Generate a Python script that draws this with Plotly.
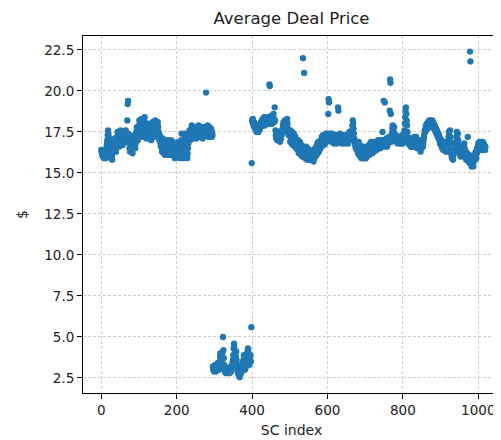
import plotly.graph_objects as go

# Average deal price per SC index
price_a = [
    16.4,16.3,16.2,16.1,16.0,16.3,16.2,15.9,16.0,16.1, 16.2,15.9,16.1,16.4,16.6,16.8,17.0,17.3,17.6,17.4,
    17.2,17.0,16.8,16.5,16.2,15.9,16.1,16.3,16.0,15.8, 16.2,16.5,16.8,16.6,16.4,16.9,17.1,16.7,16.5,16.3,
    16.6,16.9,17.2,17.5,17.3,17.1,16.8,16.6,16.9,17.2, 17.4,17.6,17.3,17.0,16.8,17.1,16.9,16.7,17.0,17.3,
    17.5,17.2,16.9,17.1,17.4,17.6,17.3,17.0,17.2,18.2, 19.2,19.4,17.4,17.1,16.8,16.5,16.3,16.6,16.9,17.2,
    17.0,16.7,16.4,16.2,16.5,16.8,17.1,17.3,17.0,16.7, 16.5,16.8,17.2,17.5,17.8,17.6,17.3,17.0,17.4,17.7,
    17.9,18.2,17.8,17.5,17.3,17.6,17.9,18.3,18.1,17.7, 17.4,17.2,17.5,17.8,18.0,18.4,18.1,17.8,17.5,17.3,
    17.1,17.4,17.7,17.9,17.6,17.3,17.5,17.8,18.0,17.7, 17.4,17.2,17.0,17.3,17.6,17.9,18.1,17.8,17.5,17.2,
    17.5,17.8,18.0,18.2,17.9,17.6,17.3,17.5,17.7,17.9, 18.1,17.8,17.5,17.2,17.0,17.3,17.1,16.8,16.6,16.9,
    16.9,16.3,16.7,17.1,16.4,16.2,16.8,17.0,16.4,16.1, 16.6,16.9,16.3,16.7,16.2,16.5,17.0,16.4,16.7,16.1,
    16.6,16.9,16.3,16.1,16.7,17.0,16.4,16.2,16.8,16.5, 16.9,16.3,16.1,16.6,16.2,15.9,16.4,16.7,16.2,16.0,
    16.5,16.8,16.2,16.0,16.6,16.9,16.3,16.1,15.9,16.4, 16.2,16.7,17.0,17.4,16.8,16.3,16.0,15.9,16.3,16.6,
    16.8,17.1,17.4,17.2,16.9,16.6,16.3,16.0,15.9,16.2, 16.5,16.8,17.1,17.4,17.6,17.3,17.0,17.2,17.5,17.7,
    17.9,17.6,17.3,17.1,17.4,17.6,17.8,17.5,17.2,17.4, 17.6,17.3,17.1,17.3,17.5,17.2,17.4,17.7,17.9,17.6,
    17.3,17.5,17.7,17.4,17.2,17.5,17.8,17.6,17.3,17.1, 17.4,17.6,17.8,17.5,17.3,17.6,17.8,17.5,19.9,17.7,
    17.4,17.6,17.9,17.7,17.4,17.2,17.5,17.8,17.6,17.3, 17.5,17.7,17.4,17.2,17.5,17.3,
]

price_low = [
    3.2,3.0,3.1,2.9,3.0,3.1,3.3,3.0,2.9,3.1,
    3.2,3.0,3.3,3.4,3.1,3.2,3.0,3.3,3.5,3.8,
    4.0,3.6,3.3,3.1,3.4,3.9,4.1,5.0,4.2,3.7,
    3.3,3.0,2.9,3.1,2.8,3.0,2.9,2.8,3.1,3.0,
    2.9,2.8,3.0,2.9,3.1,2.8,3.0,3.2,2.9,3.1,
    3.0,3.2,3.4,3.6,3.9,4.3,4.6,4.4,4.0,3.7,
    3.5,3.8,4.1,3.6,3.3,3.0,2.8,2.9,3.1,2.7,
    2.6,2.55,2.7,2.9,3.1,2.8,3.0,3.2,3.4,3.1,
    3.3,3.6,3.9,3.5,3.2,3.0,3.4,3.7,3.5,3.2,
    3.5,3.8,4.1,4.3,4.2,3.9,3.6,3.3,3.6,3.8,
    3.9,3.5,5.6,15.6,
]

price_b = [
    18.2,18.1,18.3,18.0,17.9,18.1,17.8,18.0,17.7,17.9, 17.6,17.8,17.5,17.7,17.6,17.9,17.7,17.5,17.8,17.6,
    17.9,17.7,18.0,17.8,18.1,17.9,18.2,18.0,18.3,18.1, 17.9,18.2,18.4,18.1,17.9,18.2,18.3,18.0,18.2,18.4,
    18.1,18.3,18.0,18.2,18.4,18.1,20.4,20.3,18.2,18.0, 18.3,18.5,18.2,18.0,18.3,18.1,18.4,18.6,18.3,18.1,
    19.0,18.2,17.6,17.3,17.1,17.4,17.2,17.0,17.3,17.5, 17.2,17.0,17.3,17.1,16.9,17.2,17.4,17.1,17.3,17.6,
    17.4,17.7,17.9,18.1,17.8,17.6,17.9,18.2,18.0,17.7, 17.5,17.8,18.1,18.3,18.0,17.7,17.5,17.3,17.6,17.4,
    17.4,16.9,17.6,17.0,17.3,16.8,17.5,17.1,16.7,17.3, 16.9,17.4,16.7,17.1,16.6,17.2,16.8,16.5,17.0,16.6,
    16.9,16.4,17.0,16.5,16.2,16.8,16.4,16.9,16.3,16.6, 16.1,16.7,16.3,16.0,16.6,22.0,16.2,16.5,21.1,16.1,
    16.5,15.9,16.3,16.6,16.0,16.4,15.8,16.2,16.5,15.9, 16.3,16.0,15.8,16.4,16.1,15.9,16.3,15.8,16.1,15.9,
    16.2,15.8,16.0,15.7,16.3,15.9,16.1,16.5,16.0,16.3, 16.6,16.1,16.4,16.8,16.2,16.5,16.9,16.3,16.7,16.4,
    16.8,16.5,17.0,16.6,16.9,17.2,16.7,17.0,17.3,16.8, 17.1,16.7,17.3,17.0,16.8,17.2,17.4,16.9,17.1,17.3,
    17.4,17.1,18.6,19.5,19.3,17.3,17.0,17.2,17.4,17.1, 16.9,17.2,17.4,17.1,16.9,17.2,17.0,16.8,17.1,17.3,
    17.0,16.8,17.1,17.3,17.0,16.8,17.1,17.3,19.0,18.8, 17.1,16.9,17.2,17.4,17.1,16.9,17.2,17.0,16.8,17.1,
    17.3,17.0,16.8,17.1,17.3,17.0,17.2,16.9,17.1,17.3, 17.0,16.8,17.1,17.3,17.0,16.8,17.1,17.3,17.5,17.2,
    17.0,17.3,17.5,17.2,17.4,17.6,17.9,18.2,18.0,17.7, 17.4,17.1,16.9,16.7,16.9,16.5,16.8,16.6,16.4,16.7,
    16.7,16.2,16.5,16.9,16.1,16.4,16.7,16.0,16.3,16.6, 15.9,16.4,16.1,16.5,15.9,16.2,16.6,16.0,16.3,15.9,
    16.2,16.5,15.9,16.3,16.6,16.0,16.4,16.1,16.5,16.2, 16.7,16.1,16.4,16.8,16.2,16.5,16.9,16.3,16.6,16.2,
    16.7,16.4,16.9,16.3,16.6,16.8,16.4,16.7,16.5,16.9, 16.4,16.8,16.5,16.7,17.0,16.5,16.8,16.6,17.0,16.7,
    16.5,16.7,16.9,16.6,16.8,17.0,17.5,16.7,16.9,19.4, 16.6,16.8,19.3,17.0,16.7,16.9,17.1,16.8,16.6,16.9,
    17.1,16.8,17.0,17.2,16.9,18.8,20.7,20.5,18.6,17.1, 16.9,17.4,17.7,17.9,17.6,17.3,17.5,17.8,17.4,17.2,
    17.0,17.3,17.1,16.9,17.2,17.0,16.8,17.1,16.9,17.2, 17.0,16.8,17.1,16.9,17.2,17.0,16.8,17.1,17.3,17.0,
    16.8,17.1,17.3,17.0,17.6,18.0,18.4,18.8,19.0,18.6, 18.2,17.9,17.5,17.2,17.0,16.8,17.1,16.9,16.7,17.0,
    16.8,16.6,16.9,17.1,16.8,16.6,16.9,17.1,16.8,16.6, 16.9,17.2,16.9,16.7,17.0,17.2,16.9,16.7,16.5,16.8,
    17.0,16.7,16.5,16.8,17.0,16.7,16.5,16.3,16.6,16.8, 16.5,16.7,16.9,16.6,16.8,17.0,17.2,17.4,17.6,17.5,
    17.7,17.9,17.6,17.8,18.0,17.7,17.9,18.1,17.8,18.0, 18.2,17.9,18.1,18.2,17.9,18.1,17.8,18.0,18.2,17.9,
    18.1,17.8,18.0,17.7,17.9,17.6,17.8,17.5,17.7,17.4, 17.6,17.3,17.5,17.2,17.4,17.1,17.3,17.0,16.8,17.1,
    16.9,16.7,17.0,16.8,16.5,16.8,16.6,16.4,16.7,16.9, 16.6,16.4,16.7,16.5,16.3,16.6,16.8,16.5,16.3,16.6,
    16.9,17.2,17.5,17.3,17.0,17.6,17.2,16.8,16.4,16.1, 15.9,16.2,16.0,15.8,16.1,16.4,16.2,16.5,16.7,16.4,
    16.6,16.9,17.2,17.5,17.1,16.8,17.4,17.0,16.7,16.4, 16.2,16.5,16.3,16.0,16.2,16.5,16.3,16.1,16.4,16.2,
    16.0,16.3,16.6,16.8,16.5,16.2,16.0,16.3,15.8,16.1, 15.9,16.2,17.2,16.0,15.7,15.9,16.1,15.6,22.4,21.8,
    15.8,15.6,15.4,15.7,15.5,15.8,15.6,15.4,15.7,15.9, 16.1,15.8,16.0,16.3,16.1,15.9,16.2,16.5,16.3,16.6,
    16.8,16.5,16.7,16.9,16.6,16.8,16.5,16.7,16.9,16.6, 16.4,16.7,16.9,16.6,16.8,16.5,16.7,16.6,16.4,16.6,
]

prices = price_a + price_low + price_b
sc_index = list(range(len(prices)))

x_ticks = [0, 200, 400, 600, 800, 1000]
y_ticks = [2.5, 5.0, 7.5, 10.0, 12.5, 15.0, 17.5, 20.0, 22.5]
y_tick_labels = ["2.5", "5.0", "7.5", "10.0", "12.5", "15.0", "17.5", "20.0", "22.5"]

fig = go.Figure()
fig.add_trace(go.Scatter(
    x=sc_index, y=prices, mode="markers",
    marker=dict(color="#1f77b4", size=6.3, line=dict(width=0)),
    showlegend=False,
))

# the page adds an 8px body margin, so the figure is laid out 8px smaller
W, H = 493, 432
font_family = "DejaVu Sans, sans-serif"
fig.update_layout(
    width=W, height=H,
    margin=dict(l=75, r=1, t=28, b=47, autoexpand=False),
    paper_bgcolor="white", plot_bgcolor="white",
    font=dict(family=font_family, size=13.5, color="#222"),
    title=dict(text="Average Deal Price", x=0.5, xref="paper",
               y=1 - 10 / H, yref="container", xanchor="center", yanchor="middle",
               font=dict(size=16.5, color="#222")),
)
fig.update_xaxes(
    automargin=False,
    range=[-48.5, 1057.6], tickvals=x_ticks, ticktext=[str(t) for t in x_ticks],
    showgrid=True, gridcolor="#cfcfcf", gridwidth=0.8, griddash="3px,2px",
    showline=True, linecolor="black", linewidth=1, mirror=True,
    ticks="outside", ticklen=5, tickcolor="black", zeroline=False,
    title=dict(text="SC index", standoff=7, font=dict(size=14)),
)
fig.update_yaxes(
    automargin=False,
    range=[1.585, 23.35], tickvals=y_ticks, ticktext=y_tick_labels,
    showgrid=True, gridcolor="#cfcfcf", gridwidth=0.8, griddash="3px,2px",
    showline=True, linecolor="black", linewidth=1, mirror=False,
    ticks="outside", ticklen=5, tickcolor="black", zeroline=False,
    title=dict(text="$", standoff=13, font=dict(size=14)),
)

fig.write_html("out.html")
